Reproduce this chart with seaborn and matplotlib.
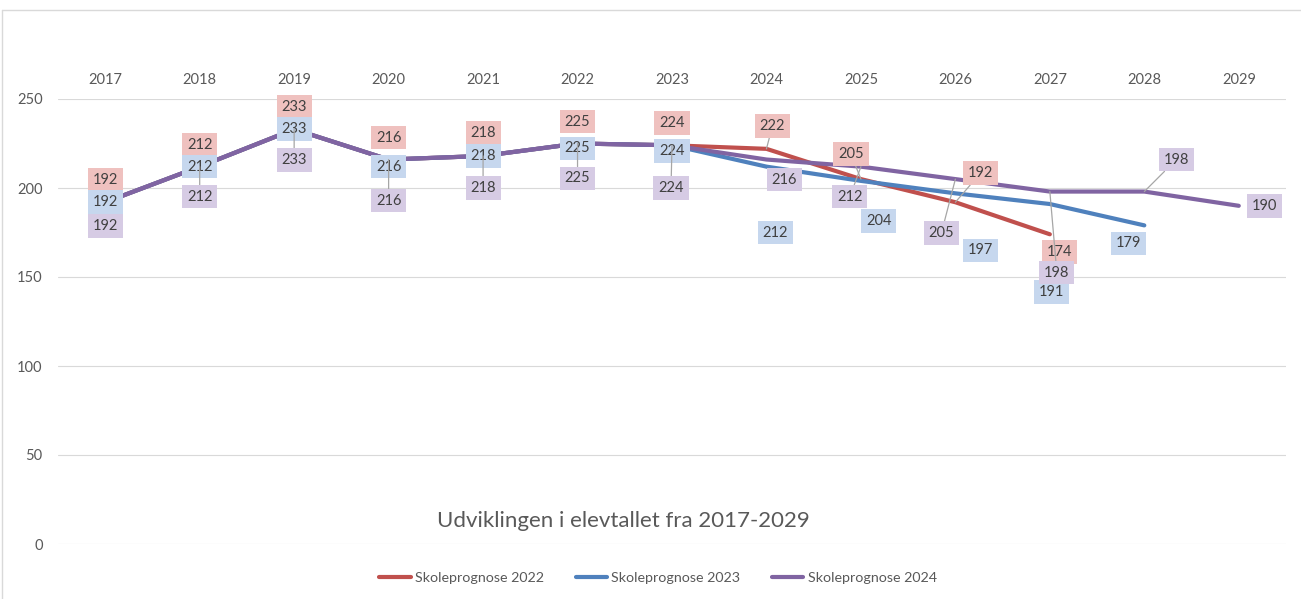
import numpy as np
import pandas as pd
import matplotlib
matplotlib.use('agg')
import matplotlib.pyplot as plt
import seaborn as sns
from matplotlib.lines import Line2D

# data
years = [2017, 2018, 2019, 2020, 2021, 2022, 2023, 2024, 2025, 2026, 2027, 2028, 2029]
prognose_2022 = [192, 212, 233, 216, 218, 225, 224, 222, 205, 192, 174, None, None]
prognose_2023 = [192, 212, 233, 216, 218, 225, 224, 212, 204, 197, 191, 179, None]
prognose_2024 = [192, 212, 233, 216, 218, 225, 224, 216, 212, 205, 198, 198, 190]
series_names = ["Skoleprognose 2022", "Skoleprognose 2023", "Skoleprognose 2024"]
title = "Udviklingen i elevtallet fra 2017-2029"

line_colors = ["#c0504d", "#4f81bd", "#8064a2"]
box_colors = ["#efc1bf", "#c6d7ee", "#d6cbe4"]

# label offsets from the point, in pixels (dx, dy up), and whether a leader line is drawn
label_offsets = {
    0: [(0, 22, 0), (0, 0, 0), (0, -24, 0)],
    1: [(0, 22, 0), (0, 0, 0), (0, -30, 1)],
    2: [(0, 22, 0), (0, 0, 0), (0, -31, 1)],
    3: [(0, 22, 0), (0, -7, 0), (0, -41, 1)],
    4: [(0, 23, 0), (0, 0, 0), (0, -32, 1)],
    5: [(0, 22, 0), (0, -5, 0), (0, -35, 1)],
    6: [(0, 22, 0), (0, -6, 0), (-1, -43, 1)],
    7: [(6, 23, 1), (9, -66, 0), (18, -20, 0)],
    8: [(-10, 25, 1), (18, -40, 0), (-11, -30, 1)],
    9: [(25, 29, 1), (25, -57, 0), (-14, -54, 1)],
    10: [(10, -18, 0), (2, -88, 0), (7, -81, 1)],
    11: [None, (-16, -18, 0), (32, 32, 1)],
    12: [None, None, (26, 0, 0)],
}

rows = []
for name, vals in zip(series_names, [prognose_2022, prognose_2023, prognose_2024]):
    for i, v in enumerate(vals):
        if v is not None:
            rows.append({"idx": i, "value": v, "series": name})
df = pd.DataFrame(rows)

sns.set_theme(style="white")
plt.rcParams['font.family'] = ['Lato', 'DejaVu Sans']
text_color = "#595959"

fig = plt.figure(figsize=(13.01, 5.99), dpi=100)
ax = fig.add_axes([58 / 1301, 1 - 544 / 599, (1286 - 58) / 1301, (544 - 99) / 599])

sns.lineplot(data=df, x="idx", y="value", hue="series", hue_order=series_names,
             palette=line_colors, linewidth=3, legend=False, ax=ax,
             solid_capstyle='round')

ax.set_xlim(-0.5, 12.5)
ax.set_ylim(0, 250)
ax.set_yticks(range(0, 251, 50))
ax.yaxis.grid(True, color="#d9d9d9", linewidth=0.8)
ax.set_axisbelow(True)
ax.set_xticks(range(len(years)))
ax.set_xticklabels([str(y) for y in years])
ax.xaxis.tick_top()
ax.tick_params(axis='x', length=0, pad=9, labelsize=10.5, labelcolor=text_color)
ax.tick_params(axis='y', length=0, pad=11, labelsize=10.5, labelcolor=text_color)
ax.set_xlabel("")
ax.set_ylabel("")
sns.despine(ax=ax, left=True, bottom=True, top=True, right=True)

# data labels
px = 0.72  # points per pixel
for s, vals in enumerate([prognose_2022, prognose_2023, prognose_2024]):
    for i, v in enumerate(vals):
        off = label_offsets[i][s]
        if v is None or off is None:
            continue
        dx, dy, leader = off
        arrow = dict(arrowstyle='-', color="#a6a6a6", lw=0.9, shrinkA=0, shrinkB=0) if leader else None
        ax.annotate(str(v), xy=(i, v), xytext=(dx * px, dy * px), textcoords='offset points',
                    ha='center', va='center', fontsize=10.5, color="#404040",
                    bbox=dict(boxstyle='square,pad=0.33', fc=box_colors[s], ec='none'),
                    arrowprops=arrow, zorder=5 + s)

fig.text(623 / 1301, 1 - 521 / 599, title, ha='center', va='center', fontsize=16, color=text_color)

handles = [Line2D([0], [0], color=c, lw=3) for c in line_colors]
fig.legend(handles, series_names, loc='center', bbox_to_anchor=(658 / 1301, 1 - 578 / 599),
           ncol=3, frameon=False, fontsize=10.3, handlelength=2.2, handletextpad=0.3,
           columnspacing=2.2, labelcolor=text_color)

# chart border (partly visible)
fig.add_artist(Line2D([2 / 1301, 1], [1 - 10 / 599, 1 - 10 / 599], color="#d9d9d9", lw=1))
fig.add_artist(Line2D([2 / 1301, 2 / 1301], [0, 1 - 10 / 599], color="#d9d9d9", lw=1))

fig.savefig("out.png", dpi=100)
